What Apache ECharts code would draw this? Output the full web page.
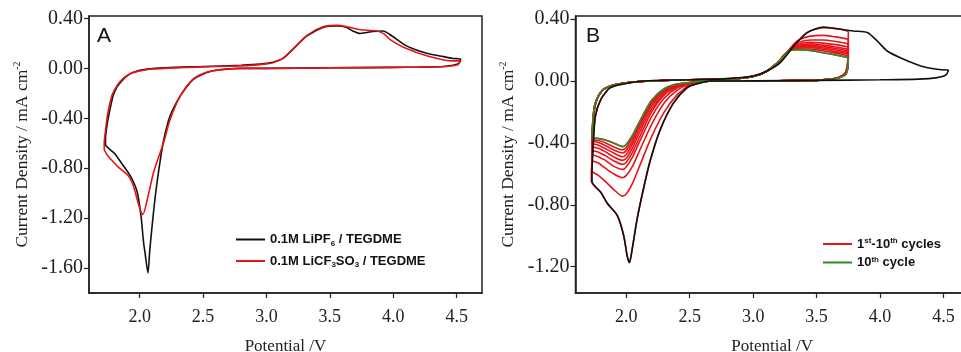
<!DOCTYPE html>
<html><head><meta charset="utf-8">
<script src="https://cdn.jsdelivr.net/npm/echarts@6/dist/echarts.min.js"></script>
<style>html,body{margin:0;padding:0;background:#fff}#c{width:961px;height:352px}</style>
</head><body><div id="c"></div>
<script>
// ---------- Tick labels ----------
const xTicks = [2.0, 2.5, 3.0, 3.5, 4.0, 4.5];
const yTicksA = [0.4, 0.0, -0.4, -0.8, -1.2, -1.6];
const yTicksB = [0.4, 0.0, -0.4, -0.8, -1.2];

// ---------- Panel A : 0.1M LiPF6 / TEGDME (black) ----------
const aBlackX = [4.53,4.51,4.4,4.2,4.0,3.5,3.0,2.8,2.714,2.6,2.53,2.45,2.40,2.32,2.24,2.19,2.16,2.12,2.08,2.065,2.045,2.03,2.01,1.98,1.925,1.85,1.80,1.73,
  1.73,1.74,1.755,1.79,1.82,1.85,1.90,1.95,2.06,2.2,2.5,2.8,2.95,3.05,3.13,3.21,3.32,3.45,3.555,3.63,3.68,3.74,3.84,3.92,3.99,4.08,4.16,4.27,4.37,4.47,4.53,4.53];
const aBlackY = [0.06,0.035,0.015,0.01,0.008,0.005,0.0,0.0,-0.003,-0.015,-0.032,-0.07,-0.11,-0.22,-0.38,-0.57,-0.75,-1.05,-1.45,-1.64,-1.50,-1.39,-1.18,-0.99,-0.86,-0.75,-0.68,-0.61,
  -0.57,-0.47,-0.38,-0.22,-0.15,-0.11,-0.06,-0.03,-0.006,0.005,0.015,0.025,0.034,0.05,0.08,0.155,0.26,0.33,0.34,0.33,0.30,0.28,0.296,0.30,0.26,0.195,0.155,0.12,0.10,0.08,0.075,0.06];

// ---------- Panel A : 0.1M LiCF3SO3 / TEGDME (red) ----------
const aRedX = [4.53,4.51,4.4,4.2,4.0,3.5,3.0,2.8,2.69,2.58,2.5,2.42,2.32,2.24,2.19,2.11,2.06,2.025,2.01,1.98,1.95,1.91,1.82,1.72,
  1.72,1.73,1.745,1.78,1.82,1.86,1.92,2.0,2.1,2.3,2.6,2.85,2.95,3.05,3.13,3.21,3.32,3.45,3.56,3.65,3.74,3.87,3.93,3.975,4.08,4.27,4.47,4.53];
const aRedY = [0.06,0.03,0.015,0.01,0.008,0.004,0.0,0.0,-0.006,-0.019,-0.04,-0.086,-0.22,-0.41,-0.59,-0.83,-1.05,-1.17,-1.15,-1.05,-0.94,-0.86,-0.78,-0.645,
  -0.60,-0.50,-0.38,-0.22,-0.14,-0.09,-0.045,-0.02,-0.005,0.005,0.015,0.022,0.03,0.045,0.08,0.155,0.265,0.335,0.345,0.33,0.31,0.30,0.275,0.23,0.17,0.10,0.06,0.06];

// ---------- Panel B : full window (black) ----------
const bBlackX = [4.54,4.52,4.45,4.3,4.0,3.5,3.0,2.8,2.665,2.55,2.48,2.374,2.27,2.19,2.14,2.086,2.046,2.025,2.007,1.98,1.93,1.85,1.80,1.73,
  1.73,1.735,1.74,1.757,1.80,1.875,2.007,2.14,2.5,2.8,3.0,3.11,3.215,3.32,3.425,3.556,3.69,3.79,3.90,3.977,4.056,4.187,4.32,4.45,4.54];
const bBlackY = [0.071,0.04,0.022,0.012,0.008,0.004,0.001,0.0,0.0,-0.02,-0.043,-0.14,-0.31,-0.51,-0.68,-0.89,-1.09,-1.175,-1.13,-1.0,-0.87,-0.79,-0.72,-0.65,
  -0.59,-0.48,-0.40,-0.226,-0.118,-0.043,-0.015,0.0,0.008,0.015,0.032,0.065,0.12,0.226,0.313,0.349,0.334,0.323,0.313,0.259,0.194,0.14,0.097,0.076,0.071];

// ---------- Panel B : 1st cycle (red, window to 3.75 V) ----------
const bCycle1X = [3.75,3.745,3.73,3.70,3.65,3.55,3.45,3.2,3.0,2.8,2.665,2.55,2.48,2.374,2.27,2.19,2.14,2.086,2.046,2.025,2.007,1.98,1.93,1.85,1.80,1.725,
  1.725,1.735,1.74,1.757,1.80,1.875,2.007,2.14,2.5,2.8,3.0,3.11,3.215,3.32,3.425,3.556,3.69,3.75];
const bCycle1Y = [0.32,0.13,0.06,0.035,0.018,0.008,0.004,0.002,0.0,0.0,0.0,-0.02,-0.043,-0.14,-0.31,-0.51,-0.68,-0.89,-1.09,-1.17,-1.13,-1.0,-0.87,-0.79,-0.72,-0.65,
  -0.59,-0.48,-0.40,-0.226,-0.118,-0.043,-0.015,0.0,0.008,0.015,0.032,0.065,0.12,0.226,0.313,0.345,0.334,0.32];

// ---------- Panel B : cycles 2-10, shared potential path ----------
const bCycleX = [3.75,3.745,3.73,3.70,3.65,3.55,3.45,3.2,3.0,2.8,2.7,2.6,2.5,2.4,2.3,2.2,2.1,2.05,2.0,1.97,1.9,1.83,1.78,1.73,
  1.733,1.74,1.75,1.765,1.785,1.82,1.88,1.95,2.05,2.2,2.5,2.8,3.0,3.1,3.2,3.27,3.35,3.45,3.55,3.65,3.75];
const bCycle2Y = [0.27,0.12,0.06,0.035,0.018,0.008,0.004,0.002,0.0,0.0,0.0,-0.005,-0.025,-0.09,-0.2,-0.36,-0.56,-0.66,-0.73,-0.744,-0.70,-0.645,-0.61,-0.58,
  -0.45,-0.30,-0.19,-0.13,-0.092,-0.056,-0.031,-0.018,-0.007,0.0,0.008,0.012,0.03,0.06,0.125,0.19,0.26,0.29,0.295,0.285,0.27];
const bCycle3Y = [0.24,0.11,0.055,0.033,0.017,0.008,0.004,0.002,0.0,0.0,0.0,-0.004,-0.02,-0.06,-0.14,-0.28,-0.46,-0.55,-0.61,-0.625,-0.60,-0.56,-0.53,-0.51,
  -0.40,-0.28,-0.18,-0.128,-0.091,-0.056,-0.031,-0.018,-0.007,0.0,0.008,0.012,0.03,0.06,0.125,0.19,0.245,0.265,0.265,0.255,0.24];
const bCycle4Y = [0.22,0.10,0.05,0.032,0.017,0.008,0.004,0.002,0.0,0.0,0.0,-0.004,-0.017,-0.045,-0.11,-0.23,-0.40,-0.49,-0.555,-0.571,-0.55,-0.51,-0.49,-0.47,
  -0.38,-0.27,-0.175,-0.127,-0.09,-0.055,-0.03,-0.018,-0.007,0.0,0.008,0.012,0.03,0.06,0.125,0.19,0.235,0.25,0.245,0.235,0.22];
const bCycle5Y = [0.205,0.10,0.05,0.031,0.016,0.007,0.003,0.002,0.0,0.0,0.0,-0.003,-0.015,-0.038,-0.09,-0.20,-0.37,-0.46,-0.525,-0.539,-0.515,-0.48,-0.46,-0.445,
  -0.36,-0.26,-0.17,-0.126,-0.09,-0.055,-0.03,-0.018,-0.007,0.0,0.008,0.012,0.03,0.06,0.125,0.19,0.228,0.24,0.232,0.22,0.205];
const bCycle6Y = [0.195,0.095,0.048,0.03,0.016,0.007,0.003,0.002,0.0,0.0,0.0,-0.003,-0.013,-0.032,-0.08,-0.18,-0.34,-0.43,-0.50,-0.513,-0.49,-0.455,-0.435,-0.42,
  -0.34,-0.25,-0.168,-0.125,-0.09,-0.055,-0.03,-0.018,-0.007,0.0,0.008,0.012,0.03,0.06,0.125,0.19,0.222,0.23,0.222,0.21,0.195];
const bCycle7Y = [0.185,0.09,0.046,0.03,0.016,0.007,0.003,0.002,0.0,0.0,0.0,-0.003,-0.012,-0.028,-0.07,-0.16,-0.315,-0.405,-0.475,-0.49,-0.465,-0.435,-0.415,-0.40,
  -0.33,-0.24,-0.165,-0.125,-0.09,-0.055,-0.03,-0.018,-0.007,0.0,0.008,0.012,0.03,0.06,0.125,0.19,0.216,0.222,0.213,0.20,0.185];
const bCycle8Y = [0.175,0.09,0.045,0.03,0.016,0.007,0.003,0.002,0.0,0.0,0.0,-0.002,-0.011,-0.025,-0.062,-0.145,-0.295,-0.385,-0.45,-0.465,-0.445,-0.415,-0.398,-0.385,
  -0.32,-0.235,-0.163,-0.125,-0.09,-0.055,-0.03,-0.018,-0.007,0.0,0.008,0.012,0.03,0.06,0.125,0.19,0.212,0.215,0.205,0.19,0.175];
const bCycle9Y = [0.163,0.085,0.044,0.029,0.016,0.007,0.003,0.002,0.0,0.0,0.0,-0.002,-0.01,-0.022,-0.055,-0.135,-0.28,-0.365,-0.43,-0.445,-0.425,-0.398,-0.385,-0.375,
  -0.31,-0.23,-0.162,-0.125,-0.09,-0.055,-0.03,-0.018,-0.007,0.0,0.008,0.012,0.03,0.06,0.125,0.19,0.207,0.207,0.195,0.18,0.163];
const bCycle10Y = [0.152,0.08,0.043,0.028,0.016,0.007,0.003,0.002,0.0,0.0,0.002,-0.002,-0.01,-0.02,-0.05,-0.125,-0.27,-0.35,-0.41,-0.424,-0.40,-0.38,-0.372,-0.366,
  -0.30,-0.22,-0.16,-0.125,-0.09,-0.055,-0.03,-0.018,-0.007,0.0,0.008,0.012,0.03,0.06,0.125,0.19,0.203,0.198,0.183,0.168,0.152];

// ---------- Legend labels ----------
const legendA = ['0.1M LiPF6 / TEGDME', '0.1M LiCF3SO3 / TEGDME'];
const legendB = ['1st-10th cycles', '10th cycle'];

// ---------- build ----------
const RED = '#e3151b', BLACK = '#111', GREEN = '#2f8a2a';
const zip = (xs, ys) => xs.map((x, i) => [x, ys[i]]);
const serifFont = '"Liberation Serif", "Times New Roman", serif';
const sansFont = '"Liberation Sans", Arial, sans-serif';

const richLegend = {
  t: {fontFamily: sansFont, fontWeight: 'bold', fontSize: 13, color: '#111', lineHeight: 18, verticalAlign: 'middle'},
  sub: {fontFamily: sansFont, fontWeight: 'bold', fontSize: 8, color: '#111', lineHeight: 18, verticalAlign: 'bottom', padding: [0,0,1,0]},
  sup: {fontFamily: sansFont, fontWeight: 'bold', fontSize: 8, color: '#111', lineHeight: 18, verticalAlign: 'top', padding: [2,0,0,0]}
};
const legendFmt = {
  '0.1M LiPF6 / TEGDME': '{t|0.1M LiPF}{sub|6}{t| / TEGDME}',
  '0.1M LiCF3SO3 / TEGDME': '{t|0.1M LiCF}{sub|3}{t|SO}{sub|3}{t| / TEGDME}',
  '1st-10th cycles': '{t|1}{sup|st}{t|-10}{sup|th}{t| cycles}',
  '10th cycle': '{t|10}{sup|th}{t| cycle}'
};

const gridA = {left: 89, top: 16, width: 393, height: 277};
const gridB = {left: 575.5, top: 16, width: 393.4, height: 277};
function xAx(gi) {
  return {
    type: 'value', gridIndex: gi, min: 1.6, max: 4.7,
    name: 'Potential /V', nameLocation: 'middle', nameGap: 45,
    nameTextStyle: {fontFamily: serifFont, fontSize: 17, color: '#222'},
    axisLine: {show: true, onZero: false, lineStyle: {color: '#222', width: 1.5}},
    axisTick: {show: true, length: 5, inside: false, customValues: xTicks, lineStyle: {color: '#222', width: 1.2}},
    axisLabel: {customValues: xTicks, margin: 15, fontFamily: serifFont, fontSize: 18, color: '#222', formatter: v => v.toFixed(1)},
    splitLine: {show: false}
  };
}
function yAx(gi, min, max, ticks) {
  return {
    type: 'value', gridIndex: gi, min: min, max: max,
    name: '{t|Current Density / mA cm}{s|-2}', nameLocation: 'middle', nameGap: 57, nameRotate: 90,
    nameTextStyle: {rich: {
      t: {fontFamily: serifFont, fontSize: 17.5, color: '#222', lineHeight: 20, verticalAlign: 'middle'},
      s: {fontFamily: serifFont, fontSize: 10, color: '#222', lineHeight: 20, verticalAlign: 'top'}
    }},
    axisLine: {show: true, onZero: false, lineStyle: {color: '#222', width: 1.5}},
    axisTick: {show: true, length: 5, inside: false, customValues: ticks, lineStyle: {color: '#222', width: 1.2}},
    axisLabel: {customValues: ticks, margin: 6, fontFamily: serifFont, fontSize: 20, color: '#222', formatter: v => v.toFixed(2)},
    splitLine: {show: false}
  };
}
function line(name, xi, data, color, z) {
  return {type: 'line', name: name, xAxisIndex: xi, yAxisIndex: xi, data: data, showSymbol: false, symbol: 'none',
    smooth: 0.25, lineStyle: {color: color, width: 1.6}, itemStyle: {color: color}, z: z, animation: false};
}

const redCycles = [bCycle2Y, bCycle3Y, bCycle4Y, bCycle5Y, bCycle6Y, bCycle7Y, bCycle8Y, bCycle9Y, bCycle10Y];
const series = [
  line(legendA[0], 0, zip(aBlackX, aBlackY), BLACK, 2),
  line(legendA[1], 0, zip(aRedX, aRedY), RED, 3),
  line(legendB[0], 1, zip(bCycle1X, bCycle1Y), RED, 2)
];
redCycles.forEach(ys => series.push(line(legendB[0], 1, zip(bCycleX, ys), RED, 2)));
series.push(line(legendB[1], 1, zip(bCycleX, bCycle10Y), GREEN, 3));
series.push(line('full window', 1, zip(bBlackX, bBlackY), BLACK, 4));

const legendCommon = {
  orient: 'vertical', icon: 'rect', itemWidth: 29, itemHeight: 2,
  selectedMode: false, formatter: n => legendFmt[n], textStyle: {rich: richLegend}
};
const gridStyle = {show: true, borderColor: '#222', borderWidth: 1.5, backgroundColor: 'transparent', containLabel: false, outerBoundsMode: 'none'};

const chart = echarts.init(document.getElementById('c'), null, {renderer: 'canvas'});
chart.setOption({
  backgroundColor: '#fff',
  animation: false,
  grid: [Object.assign({}, gridStyle, gridA), Object.assign({}, gridStyle, gridB)],
  xAxis: [xAx(0), xAx(1)],
  yAxis: [yAx(0, -1.8, 0.42, yTicksA), yAx(1, -1.37, 0.42, yTicksB)],
  legend: [
    Object.assign({left: 231, top: 228, itemGap: 6, data: legendA}, legendCommon),
    Object.assign({left: 818, top: 230, itemGap: 3, data: legendB}, legendCommon)
  ],
  graphic: [
    {type: 'text', left: 97, top: 26, style: {text: 'A', fontFamily: sansFont, fontSize: 21, fill: '#111'}},
    {type: 'text', left: 586, top: 26, style: {text: 'B', fontFamily: sansFont, fontSize: 21, fill: '#111'}}
  ],
  series: series
});
</script></body></html>
